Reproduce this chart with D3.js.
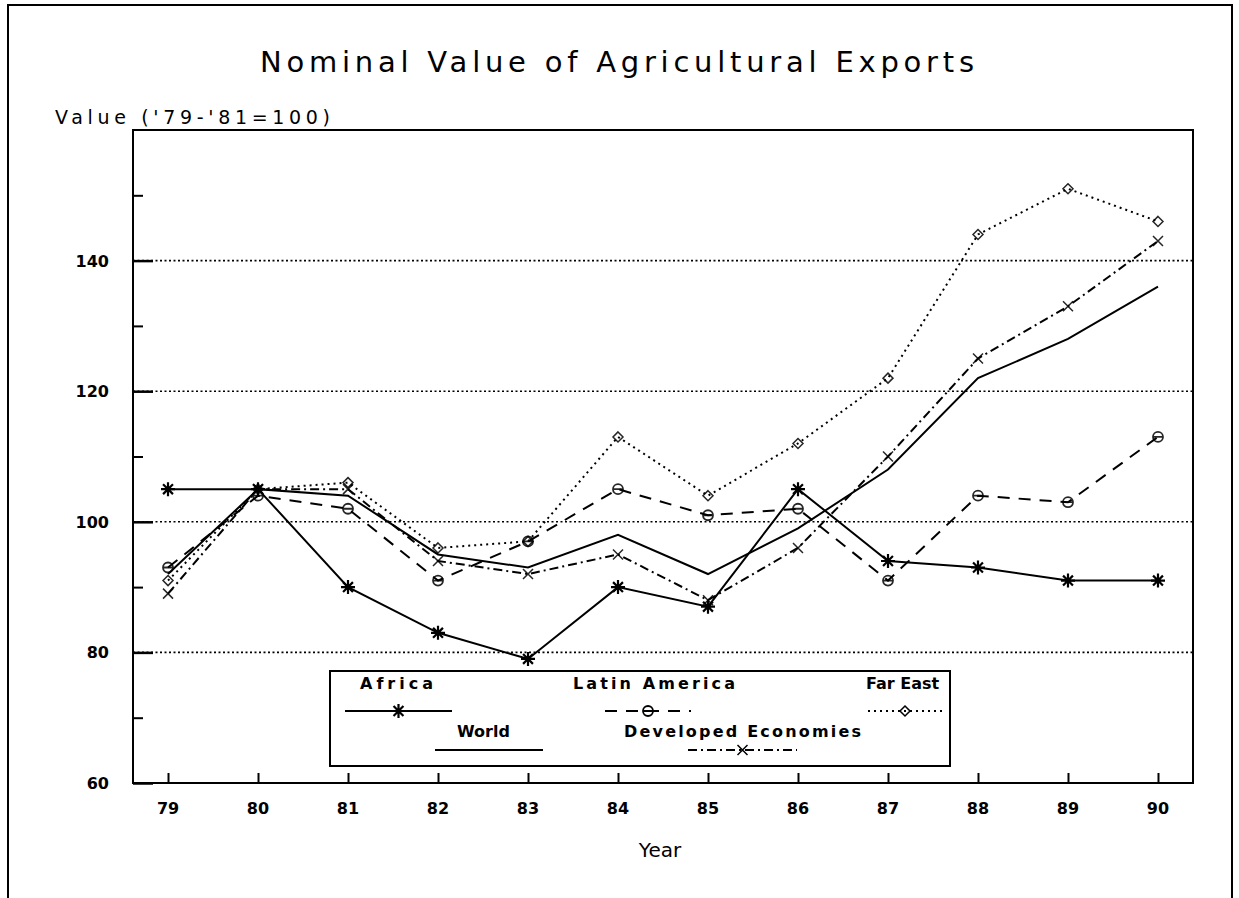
<!DOCTYPE html>
<html>
<head>
<meta charset="utf-8">
<script src="https://cdn.jsdelivr.net/npm/d3@7"></script>
<style>
  html, body { margin: 0; padding: 0; background: #fff; }
  svg { display: block; }
</style>
</head>
<body>
<script>
// ---- data ----
const years = [79, 80, 81, 82, 83, 84, 85, 86, 87, 88, 89, 90];
const africa = [105, 105, 90, 83, 79, 90, 87, 105, 94, 93, 91, 91];
const latinAmerica = [93, 104, 102, 91, 97, 105, 101, 102, 91, 104, 103, 113];
const farEast = [91, 105, 106, 96, 97, 113, 104, 112, 122, 144, 151, 146];
const world = [92, 105, 104, 95, 93, 98, 92, 99, 108, 122, 128, 136];
const developed = [89, 105, 105, 94, 92, 95, 88, 96, 110, 125, 133, 143];
const yTicksMajor = [60, 80, 100, 120, 140];
const yTicksMinor = [70, 90, 110, 130, 150];
const titleText = "Nominal Value of Agricultural Exports";
const yTitle = "Value ('79-'81=100)";
const xTitle = "Year";

const W = 1239, H = 898;
const svg = d3.select("body").append("svg").attr("width", W).attr("height", H);

const box = { left: 133, right: 1193, top: 130, bottom: 783 };
const x = d3.scaleLinear().domain([78.611, 90.389]).range([box.left, box.right]);
const y = d3.scaleLinear().domain([60, 160]).range([box.bottom, box.top]);

// outer frame
svg.append("path").attr("d", `M8,${H} L8,5 L1232,5 L1232,${H}`)
  .attr("fill", "none").attr("stroke", "#000").attr("stroke-width", 2);

// titles
svg.append("text").attr("x", 260).attr("y", 72)
  .attr("font-family", "DejaVu Sans, sans-serif").attr("font-size", 29)
  .attr("textLength", 714).attr("lengthAdjust", "spacing").text(titleText);
svg.append("text").attr("x", 55).attr("y", 124)
  .attr("font-family", "DejaVu Sans, sans-serif").attr("font-size", 19)
  .attr("textLength", 275).attr("lengthAdjust", "spacing").text(yTitle);
svg.append("text").attr("x", 660).attr("y", 857).attr("text-anchor", "middle")
  .attr("font-family", "DejaVu Sans, sans-serif").attr("font-size", 20).text(xTitle);

// gridlines (dotted)
svg.append("g").selectAll("line").data(yTicksMajor.filter(d => d > 60)).join("line")
  .attr("x1", box.left).attr("x2", box.right)
  .attr("y1", d => y(d)).attr("y2", d => y(d))
  .attr("stroke", "#000").attr("stroke-width", 1.6).attr("stroke-dasharray", "2,2.5");

// plot box
svg.append("rect").attr("x", box.left).attr("y", box.top)
  .attr("width", box.right - box.left).attr("height", box.bottom - box.top)
  .attr("fill", "none").attr("stroke", "#000").attr("stroke-width", 2);

// y axis: ticks inward
const yAxis = d3.axisRight(y).tickValues(yTicksMajor).tickSize(20).tickFormat("");
const gy = svg.append("g").attr("transform", `translate(${box.left},0)`).call(yAxis);
gy.select(".domain").remove();
gy.selectAll("line").attr("stroke-width", 2.5);
const yAxisMinor = d3.axisRight(y).tickValues(yTicksMinor).tickSize(10).tickFormat("");
const gym = svg.append("g").attr("transform", `translate(${box.left},0)`).call(yAxisMinor);
gym.select(".domain").remove();
gym.selectAll("line").attr("stroke-width", 2);
svg.append("g").selectAll("text").data(yTicksMajor).join("text")
  .attr("x", 109).attr("y", d => y(d) + 6).attr("text-anchor", "end")
  .attr("font-family", "DejaVu Sans, sans-serif").attr("font-weight", "bold").attr("font-size", 16)
  .text(d => d);

// x axis: ticks inward (upward)
const xAxis = d3.axisTop(x).tickValues(years).tickSize(10).tickFormat("");
const gx = svg.append("g").attr("transform", `translate(0,${box.bottom})`).call(xAxis);
gx.select(".domain").remove();
gx.selectAll("line").attr("stroke-width", 2);
svg.append("g").selectAll("text").data(years).join("text")
  .attr("x", d => x(d)).attr("y", 814).attr("text-anchor", "middle")
  .attr("font-family", "DejaVu Sans, sans-serif").attr("font-weight", "bold").attr("font-size", 16)
  .text(d => d);

// marker shapes
function markerPath(type, r) {
  if (type === "asterisk") {
    const d = r * 0.707;
    return `M${-r},0L${r},0M0,${-r}L0,${r}M${-d},${-d}L${d},${d}M${-d},${d}L${d},${-d}`;
  }
  if (type === "circle") {
    return `M${-r},0A${r},${r} 0 1,1 ${r},0A${r},${r} 0 1,1 ${-r},0M${-r},0L${r},0`;
  }
  if (type === "diamond") {
    return `M0,${-r}L${r},0L0,${r}L${-r},0Z`;
  }
  if (type === "x") {
    return `M${-r},${-r}L${r},${r}M${-r},${r}L${r},${-r}`;
  }
  return "";
}

const series = [
  { name: "Africa", values: africa, dash: null, marker: "asterisk", r: 7, mw: 2.2, opacity: 1 },
  { name: "Latin America", values: latinAmerica, dash: "12,9", marker: "circle", r: 5, mw: 1.8, opacity: 0.85 },
  { name: "Far East", values: farEast, dash: "2,4", marker: "diamond", r: 5, mw: 1.5, opacity: 0.85 },
  { name: "World", values: world, dash: null, marker: null, r: 0, mw: 0, opacity: 1 },
  { name: "Developed Economies", values: developed, dash: "9,4,2,4", marker: "x", r: 5, mw: 1.5, opacity: 0.85 }
];

const line = d3.line().x((d, i) => x(years[i])).y(d => y(d));
series.forEach(s => {
  svg.append("path").datum(s.values).attr("d", line)
    .attr("fill", "none").attr("stroke", "#000").attr("stroke-width", 2)
    .attr("stroke-dasharray", s.dash);
  if (s.marker) {
    svg.append("g").selectAll("path").data(s.values).join("path")
      .attr("transform", (d, i) => `translate(${x(years[i])},${y(d)})`)
      .attr("d", markerPath(s.marker, s.r))
      .attr("fill", "none").attr("stroke", "#000").attr("stroke-width", s.mw)
      .attr("opacity", s.opacity);
  }
});

// legend
const lg = svg.append("g");
lg.append("rect").attr("x", 330).attr("y", 671).attr("width", 620).attr("height", 95)
  .attr("fill", "#fff").attr("stroke", "#000").attr("stroke-width", 2);
const legendItems = [
  { s: series[0], tx: 360, ty: 689, tw: 73, lx1: 345, lx2: 452, ly: 711 },
  { s: series[1], tx: 573, ty: 689, tw: 162, lx1: 605, lx2: 691, ly: 711 },
  { s: series[2], tx: 866, ty: 689, tw: null, lx1: 868, lx2: 942, ly: 711 },
  { s: series[3], tx: 457, ty: 737, tw: null, lx1: 435, lx2: 543, ly: 750 },
  { s: series[4], tx: 624, ty: 737, tw: 237, lx1: 688, lx2: 797, ly: 750 }
];
legendItems.forEach(it => {
  const t = lg.append("text").attr("x", it.tx).attr("y", it.ty)
    .attr("font-family", "DejaVu Sans, sans-serif").attr("font-weight", "bold").attr("font-size", 16)
    .text(it.s.name);
  if (it.tw) t.attr("textLength", it.tw).attr("lengthAdjust", "spacing");
  lg.append("line").attr("x1", it.lx1).attr("x2", it.lx2).attr("y1", it.ly).attr("y2", it.ly)
    .attr("stroke", "#000").attr("stroke-width", 2).attr("stroke-dasharray", it.s.dash);
  if (it.s.marker) {
    lg.append("path").attr("transform", `translate(${(it.lx1 + it.lx2) / 2},${it.ly})`)
      .attr("d", markerPath(it.s.marker, it.s.r))
      .attr("fill", "none").attr("stroke", "#000").attr("stroke-width", it.s.mw);
  }
});
</script>
</body>
</html>
